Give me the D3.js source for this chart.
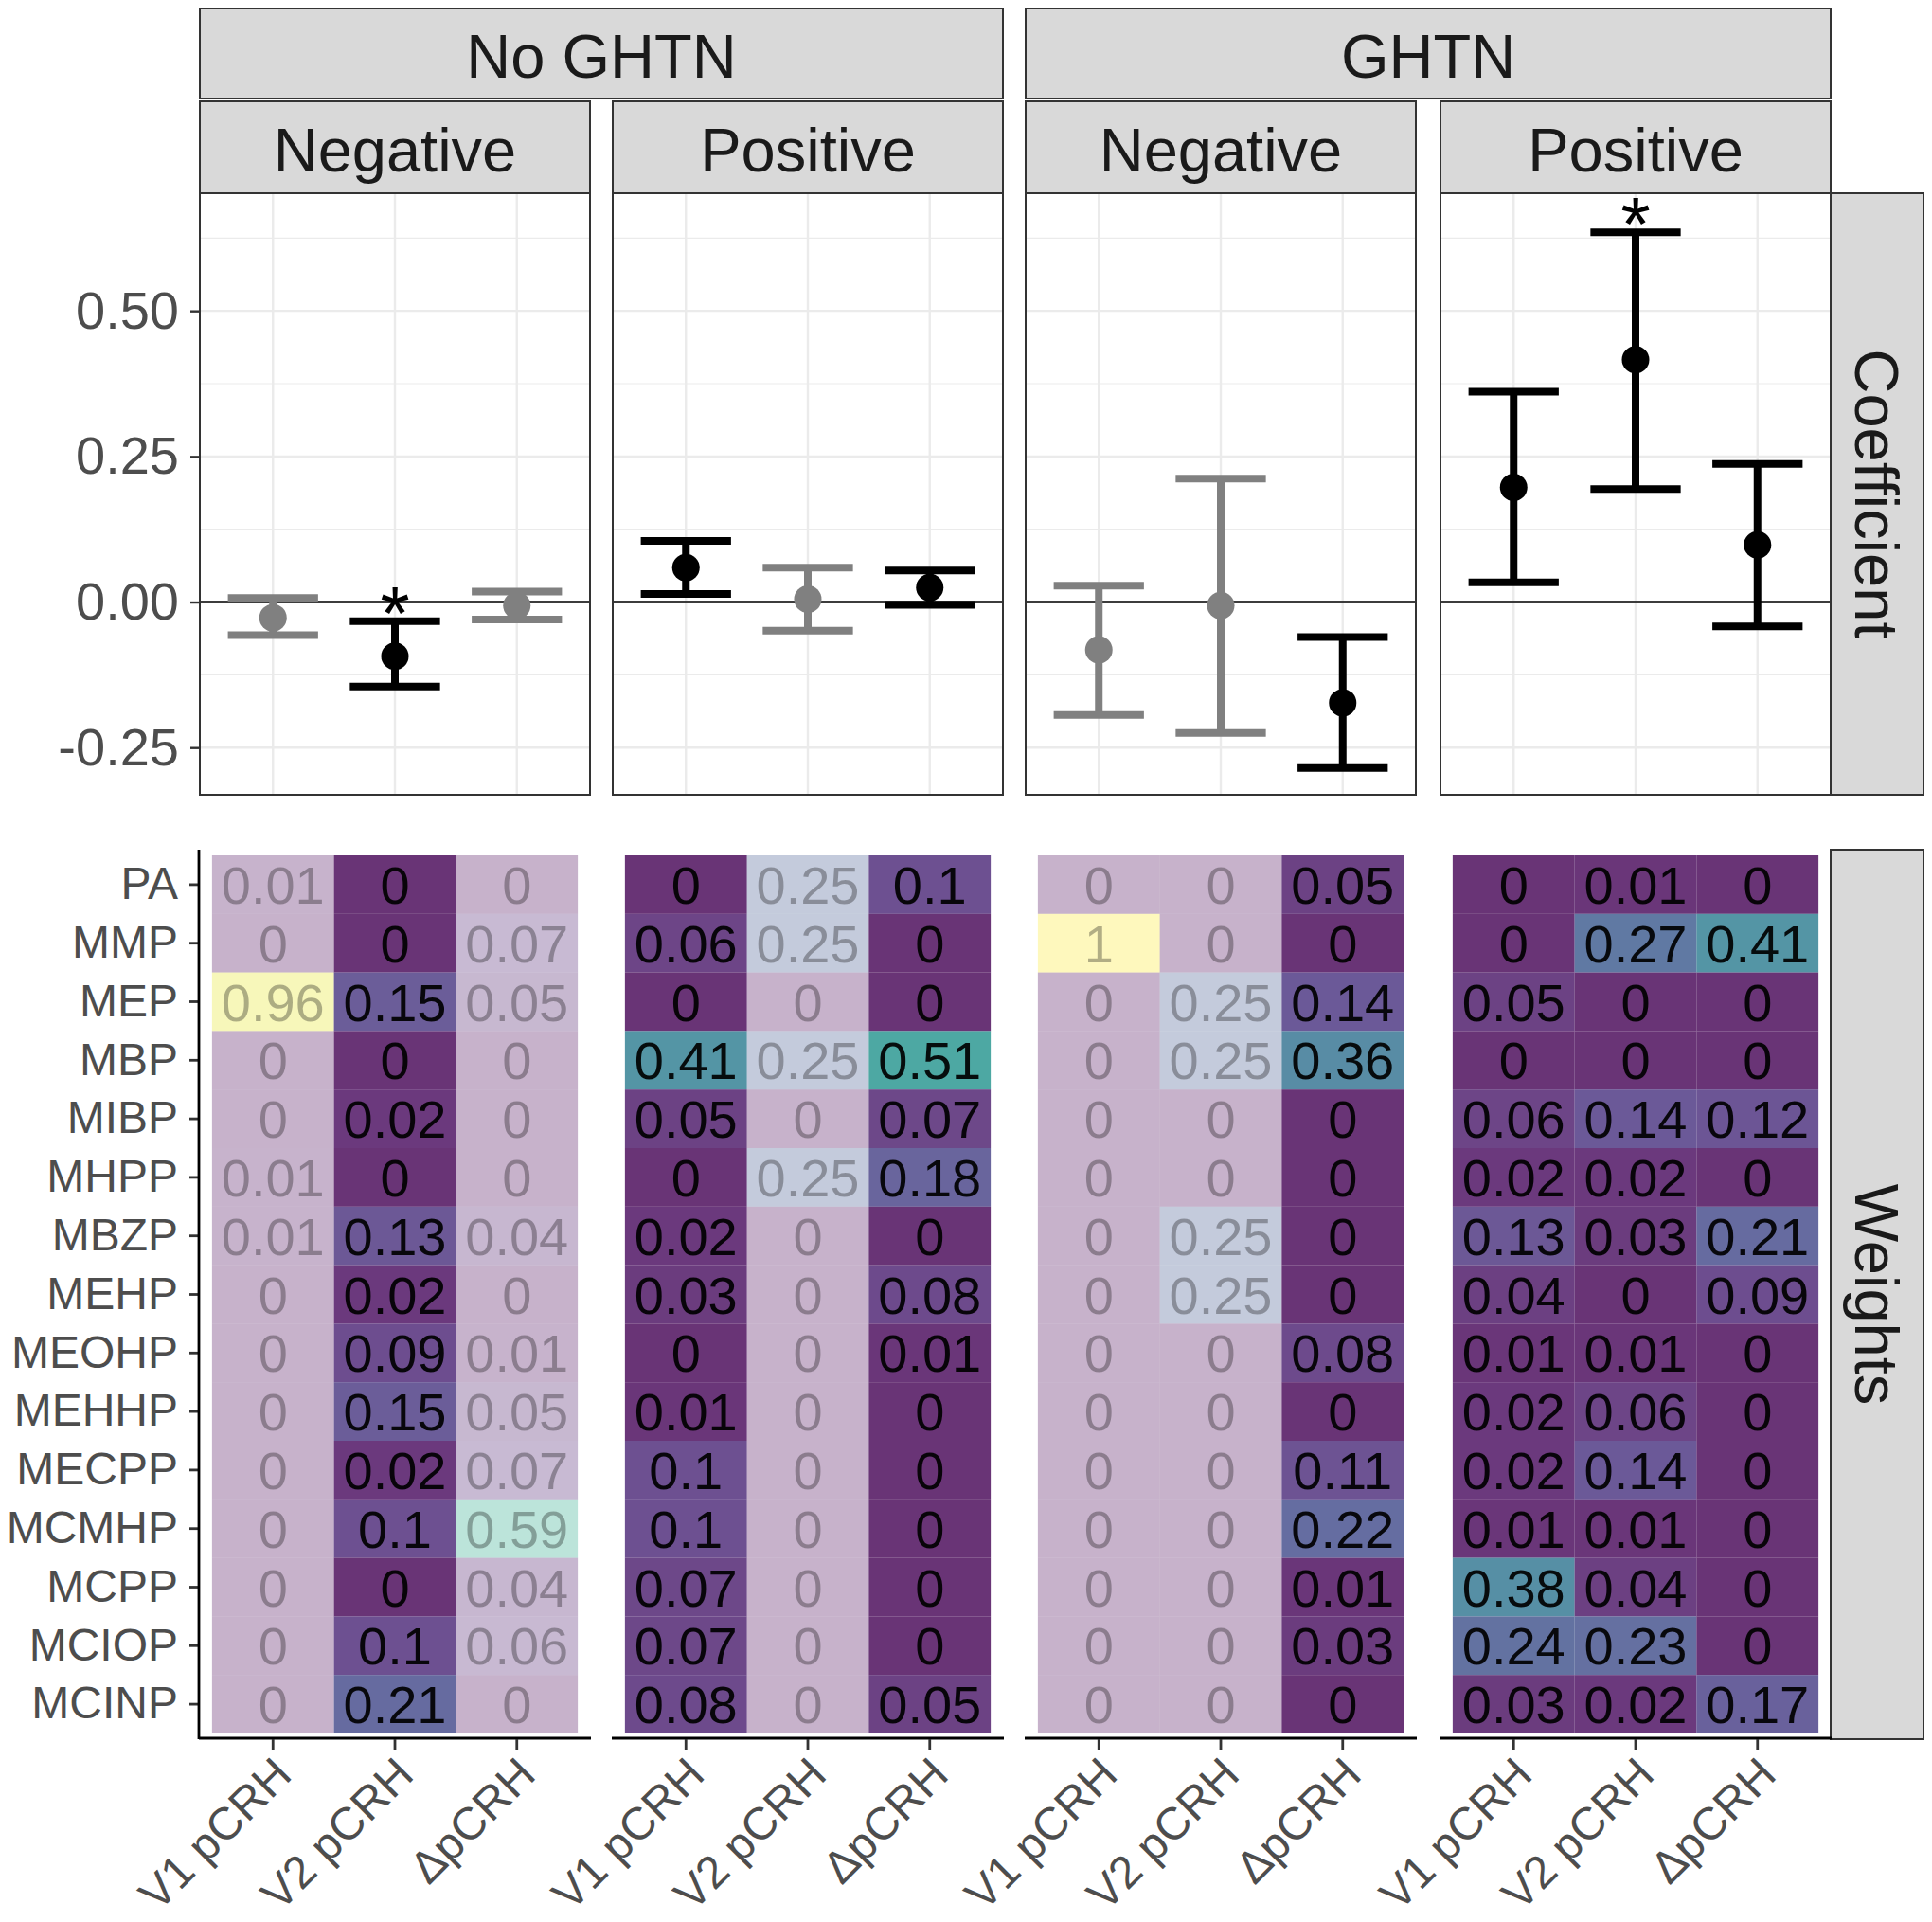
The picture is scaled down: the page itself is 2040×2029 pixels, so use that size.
<!DOCTYPE html>
<html>
<head>
<meta charset="utf-8">
<script src="https://cdn.jsdelivr.net/npm/d3@7"></script>
<style>
  body { margin: 0; background: #fff; }
  svg { display: block; font-family: "Liberation Sans", Arial, sans-serif; }
</style>
</head>
<body>
<svg id="chart" width="2040" height="2029"></svg>
<script>
// facets: No GHTN / GHTN, each split Negative / Positive
const groups = ["No GHTN", "GHTN"]
const directions = ["Negative", "Positive"]
const outcomes = ["V1 pCRH", "V2 pCRH", "ΔpCRH"]
const chemicals = ["PA", "MMP", "MEP", "MBP", "MIBP", "MHPP", "MBZP", "MEHP",
  "MEOHP", "MEHHP", "MECPP", "MCMHP", "MCPP", "MCIOP", "MCINP"]

// coefficients, one row per panel (NoGHTN-Neg, NoGHTN-Pos, GHTN-Neg, GHTN-Pos)
const estimate = [[-0.027, -0.093, -0.006], [0.059, 0.005, 0.025], [-0.082, -0.006, -0.173], [0.197, 0.416, 0.098]]
const lower = [[-0.057, -0.145, -0.030], [0.014, -0.049, -0.005], [-0.194, -0.225, -0.285], [0.034, 0.194, -0.042]]
const upper = [[0.007, -0.033, 0.018], [0.105, 0.059, 0.054], [0.028, 0.212, -0.060], [0.361, 0.635, 0.237]]
const highlighted = [[0, 1, 0], [1, 0, 1], [0, 0, 1], [1, 1, 1]]
const starred = [[0, 1, 0], [0, 0, 0], [0, 0, 0], [0, 1, 0]]
const yTicks = [-0.25, 0, 0.25, 0.5]

// weights per panel, per outcome, in chemicals order
const weightsNoGhtnNeg = [
  [0.01, 0, 0.96, 0, 0, 0.01, 0.01, 0, 0, 0, 0, 0, 0, 0, 0],
  [0, 0, 0.15, 0, 0.02, 0, 0.13, 0.02, 0.09, 0.15, 0.02, 0.1, 0, 0.1, 0.21],
  [0, 0.07, 0.05, 0, 0, 0, 0.04, 0, 0.01, 0.05, 0.07, 0.59, 0.04, 0.06, 0]]
const weightsNoGhtnPos = [
  [0, 0.06, 0, 0.41, 0.05, 0, 0.02, 0.03, 0, 0.01, 0.1, 0.1, 0.07, 0.07, 0.08],
  [0.25, 0.25, 0, 0.25, 0, 0.25, 0, 0, 0, 0, 0, 0, 0, 0, 0],
  [0.1, 0, 0, 0.51, 0.07, 0.18, 0, 0.08, 0.01, 0, 0, 0, 0, 0, 0.05]]
const weightsGhtnNeg = [
  [0, 1, 0, 0, 0, 0, 0, 0, 0, 0, 0, 0, 0, 0, 0],
  [0, 0, 0.25, 0.25, 0, 0, 0.25, 0.25, 0, 0, 0, 0, 0, 0, 0],
  [0.05, 0, 0.14, 0.36, 0, 0, 0, 0, 0.08, 0, 0.11, 0.22, 0.01, 0.03, 0]]
const weightsGhtnPos = [
  [0, 0, 0.05, 0, 0.06, 0.02, 0.13, 0.04, 0.01, 0.02, 0.02, 0.01, 0.38, 0.24, 0.03],
  [0.01, 0.27, 0, 0, 0.14, 0.02, 0.03, 0, 0.01, 0.06, 0.14, 0.01, 0.04, 0.23, 0.02],
  [0, 0.41, 0, 0, 0.12, 0, 0.21, 0.09, 0, 0, 0, 0, 0, 0, 0.17]]
const weights = [weightsNoGhtnNeg, weightsNoGhtnPos, weightsGhtnNeg, weightsGhtnPos]

const svg = d3.select("#chart")
const panelX = [211, 647, 1083, 1521]
const panelW = 412
const coefTop = 204, coefBottom = 839
const heatTop = 897, heatBottom = 1836
const stripX = 1933, stripW = 98

const y = d3.scaleLinear().domain([-0.331, 0.702]).range([coefBottom, coefTop])
const yHeat = d3.scaleBand().domain(chemicals).range([heatTop + 6, heatBottom - 6])
const fill = d3.scaleSequential(d3.interpolateViridis).domain([0, 1])
const fmt = d => d3.format(".2f")(d).replace("−", "-")

function xScale(p) {
  const pad = panelW * 0.1 / 3.2
  return d3.scaleBand().domain(outcomes).range([panelX[p] + pad, panelX[p] + panelW - pad])
}

function strip(x, y0, w, h, label, rotate) {
  const g = svg.append("g")
  g.append("rect").attr("x", x).attr("y", y0).attr("width", w).attr("height", h)
    .attr("fill", "#d9d9d9").attr("stroke", "#333").attr("stroke-width", 2)
  const t = g.append("text").attr("font-size", 65).attr("fill", "#1a1a1a")
    .attr("text-anchor", "middle").attr("dy", "0.36em").text(label)
  if (rotate) t.attr("transform", `translate(${x + w / 2},${y0 + h / 2}) rotate(90)`)
  else t.attr("x", x + w / 2).attr("y", y0 + h / 2 + 2)
}

// strips on top
groups.forEach((gname, gi) => {
  const left = panelX[gi * 2], right = panelX[gi * 2 + 1] + panelW
  strip(left, 9, right - left, 95, gname)
  directions.forEach((dname, di) => strip(panelX[gi * 2 + di], 107, panelW, coefTop - 107, dname))
})
strip(stripX, coefTop, stripW, coefBottom - coefTop, "Coefficient", true)
strip(stripX, heatTop, stripW, heatBottom - heatTop, "Weights", true)

const minor = d3.range(-0.375, 0.75, 0.25).filter(v => v > y.domain()[0] && v < y.domain()[1])

panelX.forEach((px, p) => {
  const x = xScale(p)
  const bw = x.bandwidth()
  const cx = o => x(o) + bw / 2
  const g = svg.append("g")

  // coefficient panel
  g.selectAll(".minor").data(minor).join("line")
    .attr("x1", px).attr("x2", px + panelW).attr("y1", d => y(d)).attr("y2", d => y(d))
    .attr("stroke", "#ebebeb").attr("stroke-width", 1.2)
  g.selectAll(".major").data(yTicks).join("line")
    .attr("x1", px).attr("x2", px + panelW).attr("y1", d => y(d)).attr("y2", d => y(d))
    .attr("stroke", "#ebebeb").attr("stroke-width", 2.4)
  g.selectAll(".vgrid").data(outcomes).join("line")
    .attr("x1", cx).attr("x2", cx).attr("y1", coefTop).attr("y2", coefBottom)
    .attr("stroke", "#ebebeb").attr("stroke-width", 2.4)
  g.append("line").attr("x1", px).attr("x2", px + panelW).attr("y1", y(0)).attr("y2", y(0))
    .attr("stroke", "#000").attr("stroke-width", 2.5)

  outcomes.forEach((o, i) => {
    const col = highlighted[p][i] ? "#000" : "#808080"
    const half = bw * 0.37
    const path = `M${cx(o) - half},${y(upper[p][i])}H${cx(o) + half}M${cx(o)},${y(upper[p][i])}V${y(lower[p][i])}M${cx(o) - half},${y(lower[p][i])}H${cx(o) + half}`
    g.append("path").attr("d", path).attr("fill", "none").attr("stroke", col).attr("stroke-width", 8)
    g.append("circle").attr("cx", cx(o)).attr("cy", y(estimate[p][i])).attr("r", 14.5).attr("fill", col)
    if (starred[p][i]) {
      g.append("text").attr("x", cx(o)).attr("y", y(upper[p][i]) + 19).attr("text-anchor", "middle")
        .attr("font-size", 80).attr("fill", "#000").text("*")
    }
  })
  g.append("rect").attr("x", px).attr("y", coefTop).attr("width", panelW).attr("height", coefBottom - coefTop)
    .attr("fill", "none").attr("stroke", "#333").attr("stroke-width", 2)

  // weights heatmap
  const cells = []
  outcomes.forEach((o, i) => chemicals.forEach((c, j) =>
    cells.push({ o, c, v: weights[p][i][j], hl: highlighted[p][i] })))
  g.selectAll(".tile").data(cells).join("rect")
    .attr("x", d => x(d.o)).attr("y", d => yHeat(d.c))
    .attr("width", bw).attr("height", yHeat.bandwidth())
    .attr("fill", d => fill(d.v)).attr("fill-opacity", d => d.hl ? 0.8 : 0.3)
  g.selectAll(".lab").data(cells).join("text")
    .attr("x", d => cx(d.o)).attr("y", d => yHeat(d.c) + yHeat.bandwidth() / 2)
    .attr("dy", "0.36em").attr("text-anchor", "middle").attr("font-size", 56)
    .attr("fill", "#000").attr("fill-opacity", d => d.hl ? 0.92 : 0.3)
    .text(d => String(d.v))

  // bottom axis
  g.append("line").attr("x1", px - 1).attr("x2", px + panelW + 1).attr("y1", heatBottom - 1).attr("y2", heatBottom - 1)
    .attr("stroke", "#000").attr("stroke-width", 2.8)
  g.selectAll(".xt").data(outcomes).join("line")
    .attr("x1", cx).attr("x2", cx).attr("y1", heatBottom).attr("y2", heatBottom + 11)
    .attr("stroke", "#333").attr("stroke-width", 2.8)
  g.selectAll(".xl").data(outcomes).join("text")
    .attr("transform", d => `translate(${cx(d) + 22},${heatBottom + 40}) rotate(-45)`)
    .attr("text-anchor", "end").attr("font-size", 48).attr("fill", "#4d4d4d").text(d => d)
})

// y axis of coefficient panels
const yAxis = svg.append("g").attr("transform", `translate(${panelX[0]},0)`)
  .call(d3.axisLeft(y).tickValues(yTicks).tickFormat(fmt).tickSize(10).tickPadding(12))
yAxis.select(".domain").remove()
yAxis.selectAll("line").attr("stroke", "#333").attr("stroke-width", 2.4)
yAxis.selectAll("text").attr("font-size", 56).attr("fill", "#4d4d4d").attr("font-family", null)

// y axis of heatmap
const axisX = panelX[0] - 1
const hAxis = svg.append("g").attr("transform", `translate(${axisX},0)`)
  .call(d3.axisLeft(yHeat).tickSize(10).tickPadding(12))
hAxis.select(".domain").remove()
hAxis.selectAll("line").attr("stroke", "#333").attr("stroke-width", 2.8)
hAxis.selectAll("text").attr("font-size", 48).attr("fill", "#4d4d4d").attr("font-family", null)
svg.append("line").attr("x1", axisX).attr("x2", axisX).attr("y1", heatTop).attr("y2", heatBottom)
  .attr("stroke", "#000").attr("stroke-width", 2.8)
</script>
</body>
</html>
